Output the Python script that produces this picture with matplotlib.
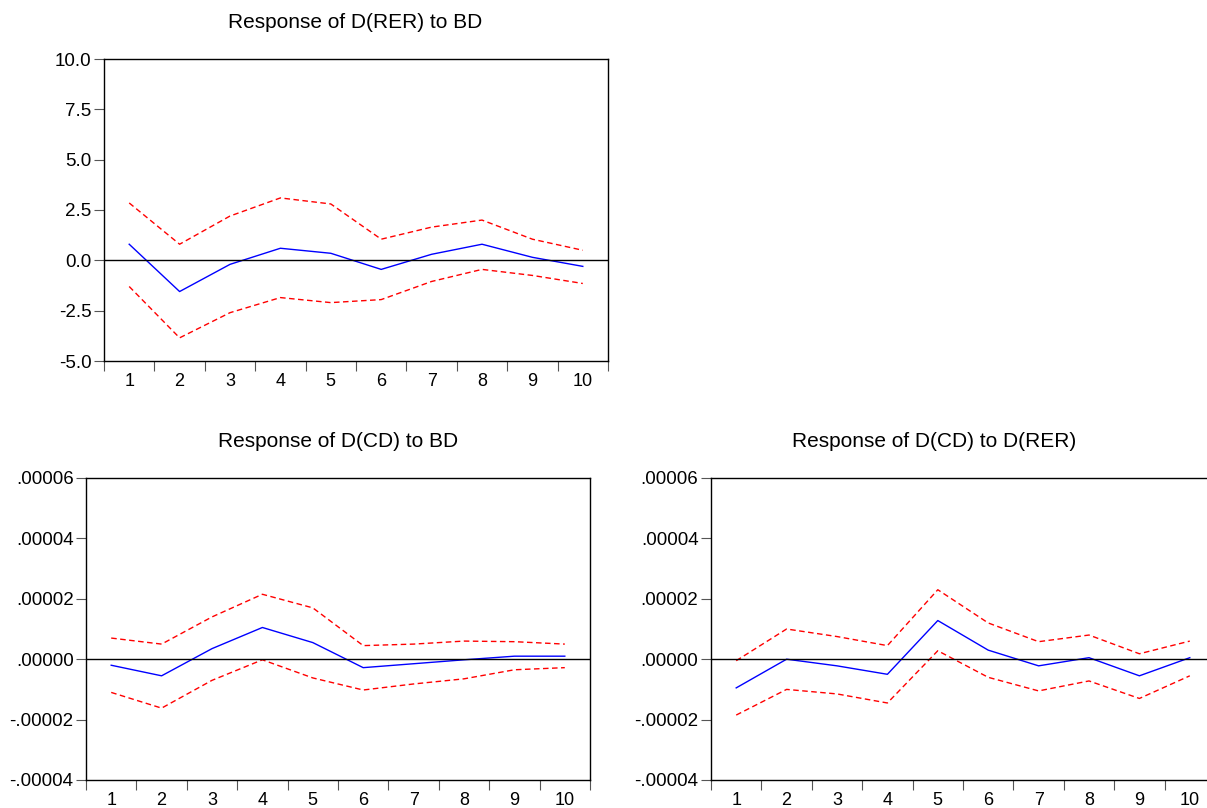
import matplotlib
matplotlib.use("Agg")
import matplotlib.pyplot as plt
from matplotlib.ticker import FuncFormatter, FixedLocator

plt.rcParams['font.family'] = ['Liberation Sans', 'DejaVu Sans']

periods = [1, 2, 3, 4, 5, 6, 7, 8, 9, 10]

# Response of D(RER) to BD
rer_bd = [0.8, -1.55, -0.2, 0.6, 0.35, -0.45, 0.3, 0.8, 0.15, -0.3]
rer_bd_hi = [2.85, 0.8, 2.2, 3.1, 2.8, 1.05, 1.65, 2.0, 1.05, 0.5]
rer_bd_lo = [-1.3, -3.85, -2.6, -1.85, -2.1, -1.95, -1.05, -0.45, -0.75, -1.15]

# Response of D(CD) to BD
cd_bd = [-0.000002, -0.0000055, 0.0000035, 0.0000105, 0.0000055,
         -0.0000028, -0.0000015, -0.0000002, 0.000001, 0.000001]
cd_bd_hi = [0.000007, 0.000005, 0.000014, 0.0000215, 0.000017,
            0.0000045, 0.000005, 0.000006, 0.0000058, 0.000005]
cd_bd_lo = [-0.000011, -0.0000162, -0.000007, -0.0000002, -0.0000062,
            -0.0000102, -0.0000082, -0.0000065, -0.0000035, -0.0000028]

# Response of D(CD) to D(RER)
cd_rer = [-0.0000095, 0.0, -0.0000022, -0.000005, 0.0000128,
          0.000003, -0.0000022, 0.0000005, -0.0000055, 0.0000005]
cd_rer_hi = [-0.0000005, 0.00001, 0.0000075, 0.0000045, 0.000023,
             0.000012, 0.0000058, 0.000008, 0.0000018, 0.000006]
cd_rer_lo = [-0.0000185, -0.00001, -0.0000115, -0.0000145, 0.0000028,
             -0.000006, -0.0000105, -0.0000072, -0.000013, -0.0000055]

W, H = 1207, 808
fig = plt.figure(figsize=(W / 100, H / 100), dpi=100)


def px_axes(left, top, right, bottom):
    return fig.add_axes([left / W, 1 - bottom / H, (right - left) / W, (bottom - top) / H])


def small_fmt(v, pos):
    if abs(v) < 1e-12:
        return ".00000"
    return ("%.5f" % v).replace("0.", ".", 1)


def draw_panel(ax, mid, hi, lo, ylim, yticks, fmt):
    ax.plot(periods, mid, color='blue', lw=1.0)
    ax.plot(periods, hi, color='red', lw=1.0, ls=(0, (4, 2.5)))
    ax.plot(periods, lo, color='red', lw=1.0, ls=(0, (4, 2.5)))
    ax.axhline(0, color='black', lw=1.0)
    ax.set_xlim(0.5, 10.5)
    ax.set_ylim(*ylim)
    ax.set_yticks(yticks)
    ax.yaxis.set_major_formatter(fmt)
    ax.xaxis.set_major_locator(FixedLocator([p + 0.5 for p in [0] + periods]))
    ax.xaxis.set_major_formatter(FuncFormatter(lambda v, p: ""))
    ax.xaxis.set_minor_locator(FixedLocator(periods))
    ax.xaxis.set_minor_formatter(FuncFormatter(lambda v, p: "%d" % round(v)))
    ax.tick_params(axis='x', which='major', direction='out', length=7, width=0.8, color='#555555')
    ax.tick_params(axis='x', which='minor', length=0, labelsize=13, pad=8.5)
    ax.tick_params(axis='y', direction='out', length=7, width=0.8, color='#555555',
                   labelsize=13.5, pad=2)
    for s in ax.spines.values():
        s.set_linewidth(1.0)


ax1 = px_axes(104, 59, 608, 361)
draw_panel(ax1, rer_bd, rer_bd_hi, rer_bd_lo, (-5, 10),
           [-5, -2.5, 0, 2.5, 5, 7.5, 10], FuncFormatter(lambda v, p: "%.1f" % v))

ax2 = px_axes(86, 478, 590, 780)
draw_panel(ax2, cd_bd, cd_bd_hi, cd_bd_lo, (-0.00004, 0.00006),
           [-0.00004, -0.00002, 0, 0.00002, 0.00004, 0.00006], FuncFormatter(small_fmt))

ax3 = px_axes(711, 478, 1215, 780)
draw_panel(ax3, cd_rer, cd_rer_hi, cd_rer_lo, (-0.00004, 0.00006),
           [-0.00004, -0.00002, 0, 0.00002, 0.00004, 0.00006], FuncFormatter(small_fmt))

fig.text(355 / W, 1 - 28 / H, "Response of D(RER) to BD", ha='center', va='baseline', fontsize=15)
fig.text(338 / W, 1 - 447 / H, "Response of D(CD) to BD", ha='center', va='baseline', fontsize=15)
fig.text(934 / W, 1 - 447 / H, "Response of D(CD) to D(RER)", ha='center', va='baseline', fontsize=15)

fig.savefig("out.png", dpi=100)
